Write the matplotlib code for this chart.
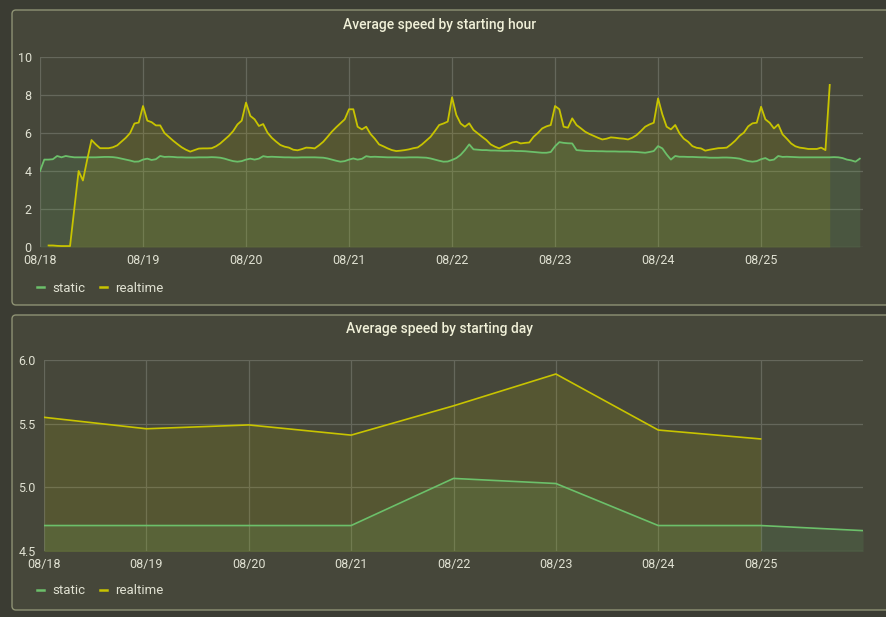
import numpy as np
import pandas as pd
import matplotlib
matplotlib.use("Agg")
import matplotlib.pyplot as plt
import matplotlib.dates as mdates
import matplotlib.ticker as mticker
from matplotlib.patches import FancyBboxPatch
from matplotlib.lines import Line2D

# ---------------- data ----------------
hourly_start = "2019-08-18 00:00"
nan = np.nan

static_hourly = (
    # 08/18
    [4.0, 4.6, 4.6, 4.62, 4.79, 4.72, 4.79, 4.75, 4.72, 4.72, 4.72, 4.72,
     4.72, 4.72, 4.73, 4.74, 4.74, 4.73, 4.7, 4.65, 4.6, 4.55, 4.49, 4.5] +
    # 08/19
    [4.6, 4.65, 4.58, 4.62, 4.79, 4.74, 4.75, 4.74, 4.72, 4.72, 4.71, 4.71,
     4.71, 4.72, 4.72, 4.72, 4.73, 4.72, 4.7, 4.65, 4.58, 4.52, 4.49, 4.52] +
    # 08/20
    [4.6, 4.65, 4.6, 4.65, 4.78, 4.74, 4.75, 4.74, 4.73, 4.72, 4.72, 4.71,
     4.71, 4.72, 4.72, 4.72, 4.72, 4.71, 4.7, 4.66, 4.6, 4.54, 4.49, 4.52] +
    # 08/21
    [4.6, 4.66, 4.6, 4.64, 4.78, 4.74, 4.75, 4.74, 4.73, 4.72, 4.72, 4.72,
     4.71, 4.71, 4.72, 4.72, 4.72, 4.71, 4.7, 4.66, 4.6, 4.54, 4.49, 4.5] +
    # 08/22
    [4.58, 4.68, 4.85, 5.1, 5.4, 5.14, 5.12, 5.1, 5.1, 5.08, 5.08, 5.07,
     5.06, 5.06, 5.07, 5.05, 5.05, 5.04, 5.02, 5.0, 4.98, 4.96, 4.96, 5.0] +
    # 08/23
    [5.3, 5.52, 5.48, 5.46, 5.45, 5.1, 5.08, 5.06, 5.05, 5.05, 5.04, 5.04,
     5.03, 5.03, 5.03, 5.02, 5.02, 5.02, 5.01, 5.0, 4.98, 4.96, 5.0, 5.05] +
    # 08/24
    [5.31, 5.19, 4.87, 4.6, 4.79, 4.75, 4.75, 4.74, 4.74, 4.73, 4.72, 4.72,
     4.7, 4.7, 4.7, 4.71, 4.71, 4.7, 4.68, 4.65, 4.58, 4.52, 4.49, 4.52] +
    # 08/25
    [4.62, 4.68, 4.56, 4.6, 4.79, 4.74, 4.75, 4.74, 4.73, 4.72, 4.72, 4.72,
     4.72, 4.72, 4.72, 4.72, 4.72, 4.73, 4.72, 4.68, 4.6, 4.56, 4.49, 4.65]
)

realtime_hourly = (
    # 08/18
    [nan, nan, 0.08, 0.08, 0.06, 0.05, 0.05, 0.05, 2.0, 4.0, 3.5, 4.6,
     5.63, 5.4, 5.2, 5.2, 5.2, 5.25, 5.35, 5.55, 5.75, 6.0, 6.5, 6.55] +
    # 08/19
    [7.42, 6.65, 6.57, 6.4, 6.4, 6.0, 5.8, 5.6, 5.42, 5.25, 5.12, 5.02,
     5.1, 5.18, 5.19, 5.19, 5.2, 5.3, 5.45, 5.65, 5.85, 6.1, 6.45, 6.65] +
    # 08/20
    [7.6, 6.9, 6.72, 6.37, 6.47, 6.02, 5.75, 5.55, 5.37, 5.28, 5.23, 5.12,
     5.09, 5.15, 5.23, 5.22, 5.19, 5.35, 5.54, 5.8, 6.07, 6.3, 6.51, 6.72] +
    # 08/21
    [7.25, 7.25, 6.33, 6.19, 6.33, 5.95, 5.7, 5.4, 5.3, 5.19, 5.1, 5.05,
     5.07, 5.1, 5.14, 5.2, 5.24, 5.4, 5.6, 5.8, 6.1, 6.42, 6.5, 6.6] +
    # 08/22
    [7.88, 6.95, 6.5, 6.33, 6.51, 6.16, 5.98, 5.8, 5.63, 5.4, 5.28, 5.19,
     5.3, 5.4, 5.5, 5.54, 5.45, 5.48, 5.5, 5.8, 6.0, 6.24, 6.35, 6.42] +
    # 08/23
    [7.42, 7.25, 6.33, 6.28, 6.77, 6.42, 6.25, 6.07, 5.95, 5.85, 5.75, 5.66,
     5.7, 5.77, 5.75, 5.72, 5.7, 5.66, 5.75, 5.89, 6.1, 6.33, 6.45, 6.54] +
    # 08/24
    [7.82, 6.98, 6.33, 6.19, 6.42, 5.98, 5.7, 5.54, 5.31, 5.22, 5.19, 5.07,
     5.12, 5.16, 5.2, 5.21, 5.23, 5.4, 5.6, 5.85, 6.02, 6.35, 6.51, 6.54] +
    # 08/25
    [7.38, 6.72, 6.54, 6.24, 6.45, 5.93, 5.7, 5.45, 5.3, 5.23, 5.2, 5.16,
     5.16, 5.16, 5.23, 5.1, 8.53]
)

day_labels = ["08/18", "08/19", "08/20", "08/21", "08/22", "08/23", "08/24", "08/25", "08/26"]
static_daily = [4.70, 4.70, 4.70, 4.70, 5.07, 5.03, 4.70, 4.70, 4.66]
realtime_daily = [5.55, 5.46, 5.49, 5.41, 5.64, 5.89, 5.45, 5.38]

titles = ["Average speed by starting hour", "Average speed by starting day"]
series_names = ["static", "realtime"]

# ---------------- style ----------------
FONT = ["Roboto", "DejaVu Sans"]
plt.rcParams["font.family"] = FONT
BG = "#3b3c33"
PANEL = "#46473a"
EDGE = "#8e9274"
GRID = "#65675b"
TXT = "#e0e1d2"
TITLE = "#f0f0d8"
C_STATIC = "#6cc06a"
C_REAL = "#c8c400"

W, H = 886, 617
fig = plt.figure(figsize=(W / 100, H / 100), dpi=100, facecolor=BG)

def panel(y0, y1):
    p = FancyBboxPatch((12 / 100, (H - y1) / 100), (900 - 12) / 100, (y1 - y0) / 100,
                       boxstyle="round,pad=0,rounding_size=0.04",
                       transform=fig.dpi_scale_trans, facecolor=PANEL,
                       edgecolor=EDGE, linewidth=1.0, zorder=-5)
    fig.patches.append(p)

panel(10, 305)
panel(315, 610)

def make_axes(l, r, t, b):
    ax = fig.add_axes([l / W, (H - b) / H, (r - l) / W, (b - t) / H])
    ax.set_zorder(2)
    return ax

def style(ax):
    ax.set_facecolor("none")
    ax.patch.set_alpha(0)
    for s in ax.spines.values():
        s.set_visible(False)
    ax.grid(True, color=GRID, linewidth=0.9)
    ax.set_axisbelow(True)
    ax.tick_params(length=0, colors=TXT, labelsize=9, pad=4)

def legend(y_px):
    handles = [Line2D([], [], color=C_STATIC, lw=1.8),
               Line2D([], [], color=C_REAL, lw=1.8)]
    lg = fig.legend(handles, series_names, loc="center left",
                    bbox_to_anchor=(25 / W, (H - y_px) / H), ncol=2, frameon=False,
                    handlelength=0.55, handletextpad=0.6, columnspacing=1.1,
                    prop={"family": FONT, "size": 9.5}, labelcolor=TXT)
    lg.set_zorder(3)

# ---------------- top panel ----------------
ax1 = make_axes(40, 863, 57, 247)
t_static = pd.date_range(hourly_start, periods=len(static_hourly), freq="h")
t_real = pd.date_range(hourly_start, periods=len(realtime_hourly), freq="h")
s = np.array(static_hourly, dtype=float)
r = np.array(realtime_hourly, dtype=float)
ax1.fill_between(t_static, 0, s, color=C_STATIC, alpha=0.13, linewidth=0)
ax1.fill_between(t_real, 0, r, where=~np.isnan(r), color=C_REAL, alpha=0.12, linewidth=0)
ax1.plot(t_static, s, color=C_STATIC, lw=1.3)
ax1.plot(t_real, r, color=C_REAL, lw=1.3)
ax1.set_ylim(0, 10)
ax1.set_yticks([0, 2, 4, 6, 8, 10])
ax1.set_xlim(t_static[0], t_static[-1] + pd.Timedelta(minutes=45))
ax1.xaxis.set_major_locator(mdates.DayLocator())
ax1.xaxis.set_major_formatter(mdates.DateFormatter("%m/%d"))
style(ax1)
ax1.tick_params(axis="y", pad=6)
ax1.tick_params(axis="x", pad=5)
fig.text(440 / W, (H - 25) / H, titles[0], ha="center", va="center",
         color=TITLE, fontsize=10, fontweight="medium", family=FONT)
legend(288)

# ---------------- bottom panel ----------------
ax2 = make_axes(44, 863, 360, 551)
d_static = pd.date_range("2019-08-18", periods=len(static_daily), freq="D")
d_real = pd.date_range("2019-08-18", periods=len(realtime_daily), freq="D")
ax2.fill_between(d_static, 4.0, static_daily, color=C_STATIC, alpha=0.13, linewidth=0)
ax2.fill_between(d_real, 4.0, realtime_daily, color=C_REAL, alpha=0.12, linewidth=0)
ax2.plot(d_static, static_daily, color=C_STATIC, lw=1.2)
ax2.plot(d_real, realtime_daily, color=C_REAL, lw=1.2)
ax2.set_ylim(4.5, 6.0)
ax2.set_yticks([4.5, 5.0, 5.5, 6.0])
ax2.yaxis.set_major_formatter(mticker.FormatStrFormatter("%.1f"))
ax2.set_xlim(d_static[0], d_static[-1])
ax2.set_xticks(d_real)
ax2.set_xticklabels(day_labels[:len(d_real)])
style(ax2)
ax2.tick_params(axis="x", pad=5)
ax2.tick_params(axis="y", pad=6)
fig.text(440 / W, (H - 329) / H, titles[1], ha="center", va="center",
         color=TITLE, fontsize=10, fontweight="medium", family=FONT)
legend(591)

fig.savefig("out.png", dpi=100, facecolor=BG)
